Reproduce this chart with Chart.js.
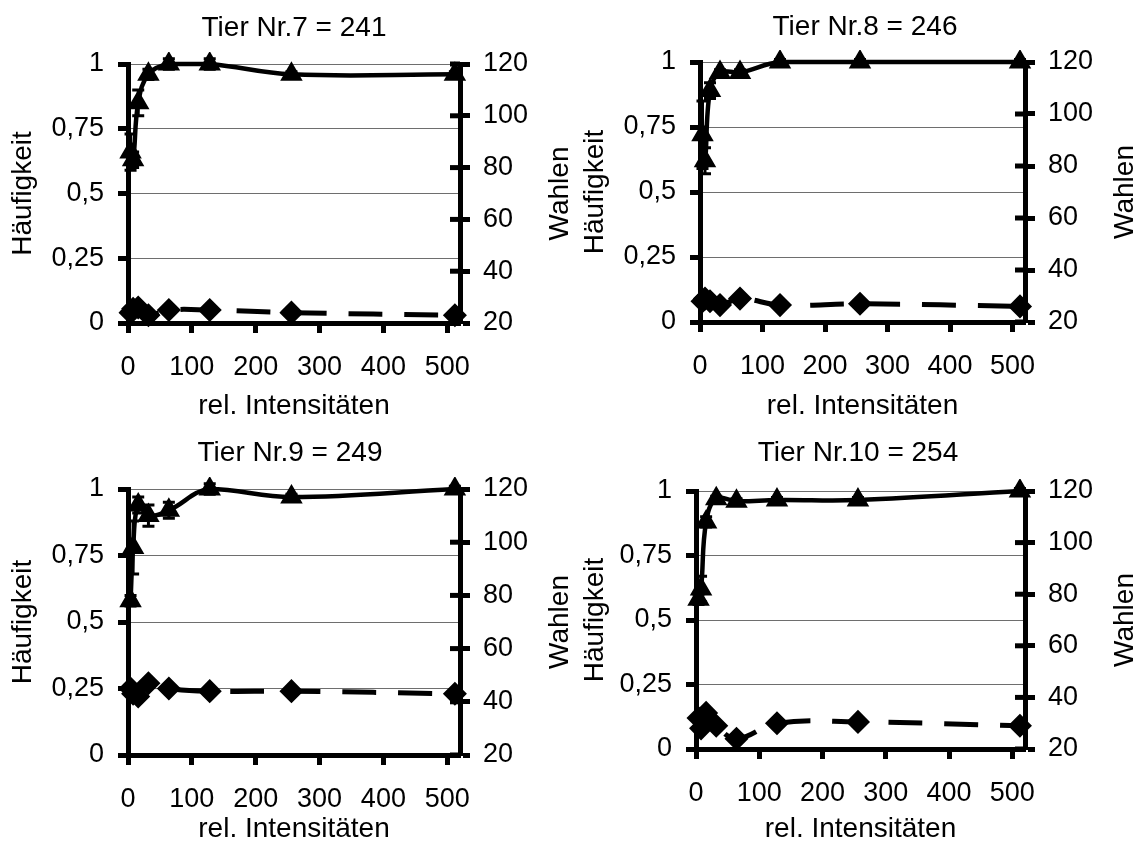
<!DOCTYPE html>
<html>
<head>
<meta charset="utf-8">
<title>Tier Nr.7 - Nr.10</title>
<script src="https://cdn.jsdelivr.net/npm/chart.js@4.4.1/dist/chart.umd.min.js"></script>
<style>
  html, body { margin: 0; padding: 0; background: #fff; }
  #page { position: relative; width: 1144px; height: 843px; overflow: hidden; }
  #page canvas { position: absolute; }
</style>
</head>
<body>
<div id="page">
  <canvas id="tier7" width="572" height="420" style="left:0px;top:0px"></canvas>
  <canvas id="tier8" width="572" height="420" style="left:572px;top:0px"></canvas>
  <canvas id="tier9" width="572" height="423" style="left:0px;top:420px"></canvas>
  <canvas id="tier10" width="572" height="423" style="left:572px;top:420px"></canvas>
</div>
<script>
// rel. Intensitäten, same for every animal
const intensities = [4, 8, 16, 32, 64, 128, 256, 512];

const xTicks = [0, 100, 200, 300, 400, 500];
const freqTicks = [0, 0.25, 0.5, 0.75, 1];
const choiceTicks = [20, 40, 60, 80, 100, 120];

const panelTitles = ['Tier Nr.7 = 241', 'Tier Nr.8 = 246', 'Tier Nr.9 = 249', 'Tier Nr.10 = 254'];

// Häufigkeit (triangles) with error bars
const freq7 = [0.66, 0.63, 0.85, 0.96, 1.0, 1.0, 0.96, 0.96];
const err7 = [0.07, 0.03, 0.05, 0.02, 0.02, 0.02, 0.01, 0.01];
const freq8 = [0.72, 0.62, 0.89, 0.96, 0.96, 1.0, 1.0, 1.0];
const err8 = [0.13, 0.05, 0.03, 0.01, 0.01, 0.01, 0.01, 0.01];
const freq9 = [0.58, 0.78, 0.94, 0.90, 0.92, 1.0, 0.97, 1.0];
const err9 = [0.02, 0.10, 0.03, 0.04, 0.03, 0.02, 0.01, 0.01];
const freq10 = [0.58, 0.62, 0.88, 0.97, 0.96, 0.965, 0.965, 1.0];
const err10 = [0.02, 0.05, 0.02, 0.01, 0.01, 0.01, 0.01, 0.01];

// Wahlen (diamonds, right axis)
const choices7 = [24, 25.5, 26, 23, 25, 25, 24, 23];
const choices8 = [28, 29, 28, 26.5, 29, 26.5, 27, 26];
const choices9 = [45, 43, 42, 47, 45, 44, 44, 43];
const choices10 = [32, 28, 34, 29, 24, 30, 30.5, 29];

// where each plot area sits inside its canvas
const panelLayout = [
    { id: 'tier7',  left: 128, right: 460, top: 64, bottom: 323, titleY: 28, titleShift: 16 },
    { id: 'tier8',  left: 128, right: 453, top: 62, bottom: 322, titleY: 27, titleShift: 14 },
    { id: 'tier9',  left: 128, right: 460, top: 69, bottom: 335, titleY: 33, titleShift: 8 },
    { id: 'tier10', left: 124, right: 453, top: 71, bottom: 329, titleY: 33, titleShift: 0 }
];

const FONT = '"Liberation Sans", Arial, sans-serif';
Chart.defaults.font.family = FONT;
Chart.defaults.color = '#000';

function toPoints(values) {
    return intensities.map((x, i) => ({ x: x, y: values[i] }));
}

function makePanel(layout, title, freq, err, choices) {
    const canvas = document.getElementById(layout.id);
    const W = canvas.width, H = canvas.height;
    const titleLh = 28 * 1.2;
    const padTop = layout.titleY - titleLh / 2;
    const padBottom = layout.top - padTop - titleLh;
    const yTitleOffset = 23 - layout.titleShift;

    // error bars, inward ticks on the right axis and the right axis title
    const extras = {
        id: 'panelExtras',
        afterDatasetsDraw(chart) {
            const ctx = chart.ctx;
            const xs = chart.scales.x, ys = chart.scales.y;
            ctx.save();
            ctx.strokeStyle = '#000';
            ctx.lineWidth = 3;
            freq.forEach((v, i) => {
                const px = xs.getPixelForValue(intensities[i]);
                const hi = ys.getPixelForValue(v + err[i]);
                const lo = ys.getPixelForValue(v - err[i]);
                ctx.beginPath();
                ctx.moveTo(px, hi); ctx.lineTo(px, lo);
                ctx.moveTo(px - 6, hi); ctx.lineTo(px + 6, hi);
                ctx.moveTo(px - 6, lo); ctx.lineTo(px + 6, lo);
                ctx.stroke();
            });
            ctx.restore();
        },
        afterDraw(chart) {
            const ctx = chart.ctx, area = chart.chartArea, y1 = chart.scales.y1;
            ctx.save();
            ctx.strokeStyle = '#000';
            ctx.lineWidth = 5;
            y1.ticks.forEach(t => {
                const py = y1.getPixelForValue(t.value);
                ctx.beginPath();
                ctx.moveTo(area.right - 10, py);
                ctx.lineTo(area.right, py);
                ctx.stroke();
            });
            ctx.translate(area.right + 100, (area.top + area.bottom) / 2);
            ctx.rotate(-Math.PI / 2);
            ctx.font = '28px ' + FONT;
            ctx.fillStyle = '#000';
            ctx.textAlign = 'center';
            ctx.textBaseline = 'middle';
            ctx.fillText('Wahlen', 0, 0);
            ctx.restore();
        }
    };

    return new Chart(canvas, {
        type: 'scatter',
        data: {
            datasets: [{
                label: 'Häufigkeit',
                data: toPoints(freq),
                yAxisID: 'y',
                showLine: true,
                tension: 0.4,
                borderColor: '#000',
                backgroundColor: '#000',
                borderWidth: 4.5,
                pointStyle: 'triangle',
                pointRadius: 8.5,
                clip: 12
            }, {
                label: 'Wahlen',
                data: toPoints(choices),
                yAxisID: 'y1',
                showLine: true,
                tension: 0.4,
                borderColor: '#000',
                backgroundColor: '#000',
                borderWidth: 5,
                borderDash: [34, 22],
                pointStyle: 'rectRot',
                pointRadius: 8.5,
                clip: 12
            }]
        },
        options: {
            responsive: false,
            animation: false,
            events: [],
            layout: { padding: { left: layout.titleShift, right: 0, top: 0, bottom: 0 } },
            plugins: {
                legend: { display: false },
                tooltip: { enabled: false },
                title: {
                    display: true,
                    text: title,
                    color: '#000',
                    font: { size: 28, weight: 'normal', lineHeight: 1.2 },
                    padding: { top: padTop, bottom: padBottom }
                }
            },
            scales: {
                x: {
                    type: 'linear',
                    min: 0,
                    max: 520,
                    afterBuildTicks: s => { s.ticks = xTicks.map(v => ({ value: v })); },
                    afterFit: s => { s.height = H - layout.bottom; },
                    ticks: { font: { size: 27 }, padding: 18, maxRotation: 0 },
                    grid: { drawOnChartArea: false, tickLength: 10, tickWidth: 5, tickColor: '#000' },
                    border: { color: '#000', width: 5 },
                    title: {
                        display: true,
                        text: 'rel. Intensitäten',
                        font: { size: 28, lineHeight: 1 },
                        padding: 0
                    }
                },
                y: {
                    position: 'left',
                    min: 0,
                    max: 1,
                    afterBuildTicks: s => { s.ticks = freqTicks.map(v => ({ value: v })); },
                    afterFit: s => { s.width = layout.left - layout.titleShift; },
                    ticks: {
                        font: { size: 27 },
                        padding: 14,
                        callback: v => String(v).replace('.', ',')
                    },
                    grid: { color: '#6e6e6e', lineWidth: 1, tickLength: 10, tickWidth: 5, tickColor: '#000' },
                    border: { color: '#000', width: 5 },
                    title: {
                        display: true,
                        text: 'Häufigkeit',
                        font: { size: 28, lineHeight: (2 * yTitleOffset) / 28 },
                        padding: 0
                    }
                },
                y1: {
                    position: 'right',
                    min: 20,
                    max: 120,
                    afterBuildTicks: s => { s.ticks = choiceTicks.map(v => ({ value: v })); },
                    afterFit: s => { s.width = W - layout.right; },
                    ticks: { font: { size: 27 }, padding: 13 },
                    grid: { drawOnChartArea: false, tickLength: 10, tickWidth: 5, tickColor: '#000' },
                    border: { color: '#000', width: 5 }
                }
            }
        },
        plugins: [extras]
    });
}

makePanel(panelLayout[0], panelTitles[0], freq7, err7, choices7);
makePanel(panelLayout[1], panelTitles[1], freq8, err8, choices8);
makePanel(panelLayout[2], panelTitles[2], freq9, err9, choices9);
makePanel(panelLayout[3], panelTitles[3], freq10, err10, choices10);
</script>
</body>
</html>
